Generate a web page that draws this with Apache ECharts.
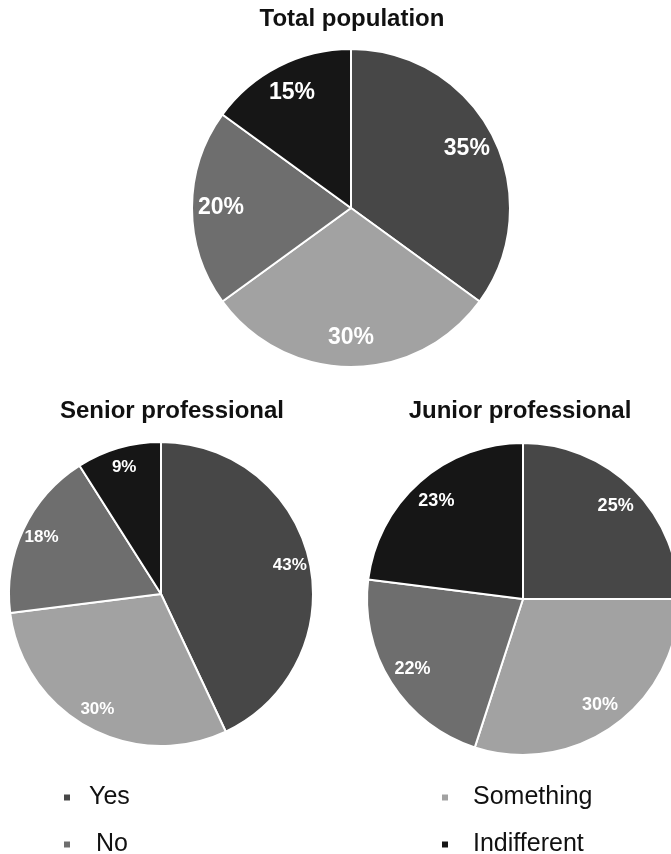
<!DOCTYPE html>
<html>
<head>
<meta charset="utf-8">
<script src="https://cdn.jsdelivr.net/npm/echarts@6/dist/echarts.min.js"></script>
<style>
    html, body { margin: 0; padding: 0; background: #fff; }
    #chart { width: 671px; height: 854px; }
</style>
</head>
<body>
<div id="chart"></div>
<script>
var categories = ['Yes', 'Something', 'No', 'Indifferent'];
var colors = ['#474747', '#a2a2a2', '#6e6e6e', '#161616'];
var totalValues = [35, 30, 20, 15];
var seniorValues = [43, 30, 18, 9];
var juniorValues = [25, 30, 22, 23];

var font = 'Arial, "Liberation Sans", sans-serif';

function pieData(values, withColor) {
    var data = [];
    for (var i = 0; i < categories.length; i++) {
        data.push({
            name: categories[i],
            value: values[i],
            itemStyle: withColor ? { color: colors[i] } : { color: 'rgba(0,0,0,0)', borderWidth: 0 }
        });
    }
    return data;
}

// pie itself + a transparent ring on top that only carries the labels
function pieSeries(values, center, r, inner, fontSize) {
    return [{
        type: 'pie',
        center: center,
        radius: r,
        silent: true,
        label: { show: false },
        labelLine: { show: false },
        itemStyle: { borderColor: '#fff', borderWidth: 2 },
        data: pieData(values, true)
    }, {
        type: 'pie',
        center: center,
        radius: [inner, r],
        silent: true,
        label: {
            show: true,
            position: 'inside',
            formatter: '{c}%',
            color: '#fff',
            fontFamily: font,
            fontWeight: 'bold',
            fontSize: fontSize
        },
        labelLine: { show: false },
        data: pieData(values, false)
    }];
}

function titleText(text, x, y) {
    return {
        type: 'text',
        x: x,
        y: y,
        style: {
            text: text,
            fill: '#111',
            font: 'bold 24px ' + font,
            textAlign: 'center',
            textVerticalAlign: 'middle'
        }
    };
}

function legendCol(names, left, textPad) {
    return {
        data: names,
        orient: 'vertical',
        left: left,
        top: 785,
        height: 100,
        padding: 0,
        icon: 'rect',
        itemWidth: 8,
        itemHeight: 8,
        itemGap: 22,
        formatter: function(name) {
            return name === 'No' ? ' ' + name : name;
        },
        textStyle: { fontFamily: font, fontSize: 25, lineHeight: 24, color: '#111', padding: [0, 0, 0, textPad] }
    };
}

var option = {
    animation: false,
    backgroundColor: '#fff',
    graphic: [
        titleText('Total population', 352, 19),
        titleText('Senior professional', 172, 411),
        titleText('Junior professional', 520, 411)
    ],
    legend: [
        legendCol(['Yes', 'No'], 62, 13),
        legendCol(['Something', 'Indifferent'], 440, 19)
    ],
    series: []
        .concat(pieSeries(totalValues, [351, 208], 159, 95, 23))
        .concat(pieSeries(seniorValues, [161, 594], 152, 106, 17))
        .concat(pieSeries(juniorValues, [523, 599], 156, 100, 18))
};

echarts.init(document.getElementById('chart')).setOption(option);
</script>
</body>
</html>
